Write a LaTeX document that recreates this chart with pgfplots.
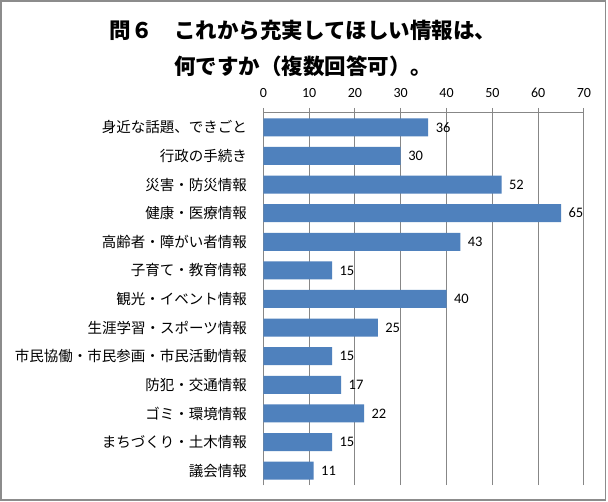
\documentclass[border=0pt]{standalone}
\usepackage{pgfplots}
\pgfplotsset{compat=1.18}
\usepackage{fontspec}
\setmainfont{Carlito}
\newfontfamily\jp{Noto Sans CJK JP}
\definecolor{barblue}{HTML}{4F81BD}
\definecolor{gridgray}{HTML}{878787}
\definecolor{framegray}{HTML}{8C8C8C}
\begin{document}
\begin{tikzpicture}[x=1pt,y=1pt]
\useasboundingbox (0pt,0pt) rectangle (608pt,501pt);
\fill[white] (0pt,0pt) rectangle (608pt,501pt);
\draw[framegray, line width=1.2pt] (1pt,1pt) rectangle (605.5pt,500pt);
\node[font=\jp\bfseries\fontsize{21.5}{24}\selectfont, inner sep=0pt] at (303pt,471pt) {問６　これから充実してほしい情報は、};
\node[font=\jp\bfseries\fontsize{21.5}{24}\selectfont, inner sep=0pt] at (303pt,435pt) {何ですか（複数回答可）。};
\begin{axis}[
  at={(263.3pt,16pt)}, anchor=south west,
  width=320.7pt, height=372pt, scale only axis,
  xbar, bar width=18pt,
  xmin=0, xmax=70, ymin=-0.5, ymax=12.5,
  axis x line*=top, axis y line*=left,
  axis line style={gridgray, line width=1pt},
  xtick={0,10,...,70},
  xmajorgrids, grid style={gridgray, line width=1pt},
  tick align=outside,
  major tick length=5pt,
  every tick/.style={gridgray, line width=1pt},
  /pgf/number format/assume math mode=true,
  xticklabel style={font=\fontsize{14}{15}\selectfont, yshift=7pt},
  ytick={0,...,12},
  yticklabels={議会情報, まちづくり・土木情報, ゴミ・環境情報, 防犯・交通情報, 市民協働・市民参画・市民活動情報, 生涯学習・スポーツ情報, 観光・イベント情報, 子育て・教育情報, 高齢者・障がい者情報, 健康・医療情報, 災害・防災情報, 行政の手続き, 身近な話題、できごと},
  y tick label style={font=\jp\fontsize{14.5}{16}\selectfont, xshift=-8pt},
  ytick style={draw=none},
  minor ytick={-0.5,0.5,...,12.5},
  minor tick length=5pt,
  minor y tick style={gridgray, line width=1pt},
  nodes near coords,
  every node near coord/.append style={font=\fontsize{14.5}{16}\selectfont, black, xshift=4pt},
  clip=false,
]
\addplot[fill=barblue, draw=none] coordinates {
(11,0) (15,1) (22,2) (17,3) (15,4) (25,5) (40,6) (15,7) (43,8) (65,9) (52,10) (30,11) (36,12)
};
\end{axis}
\end{tikzpicture}
\end{document}
